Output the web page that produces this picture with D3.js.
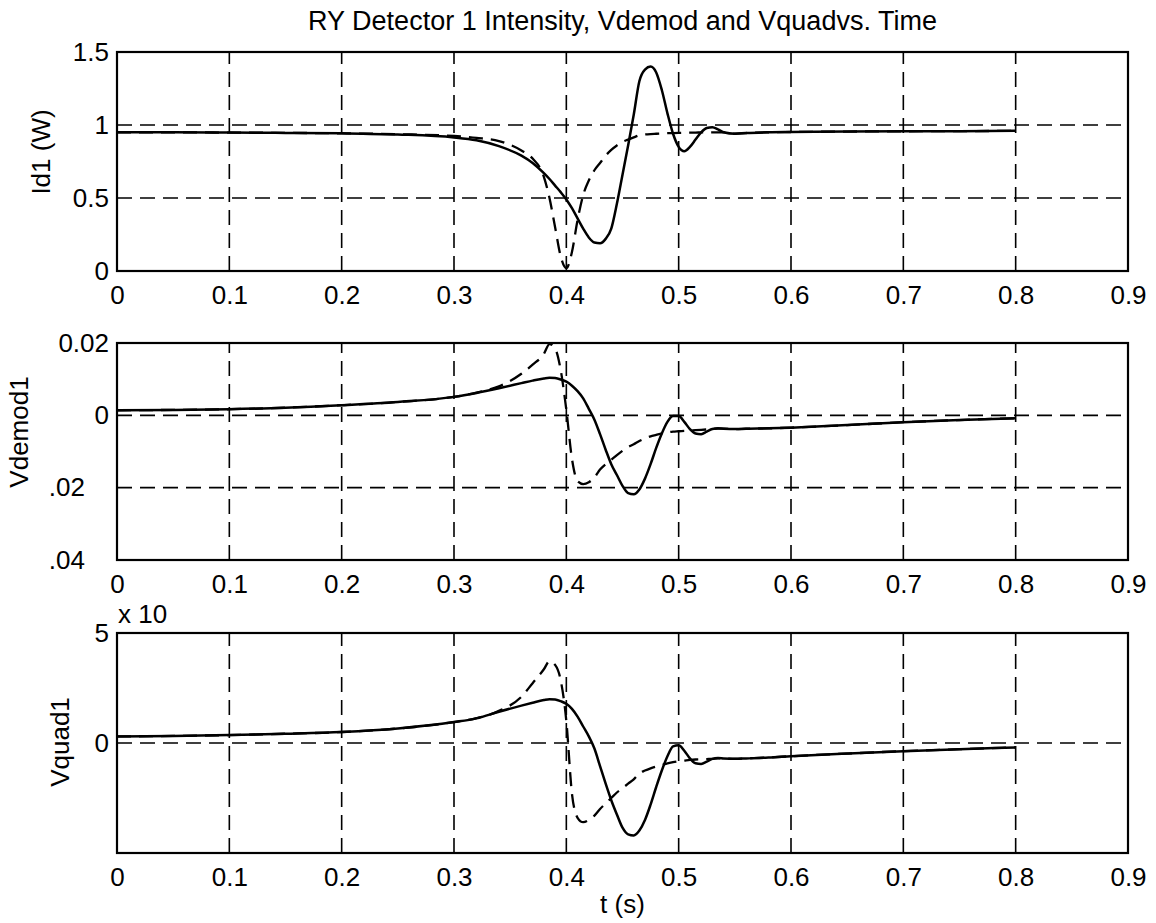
<!DOCTYPE html>
<html>
<head>
<meta charset="utf-8">
<script src="https://cdn.jsdelivr.net/npm/d3@7"></script>
<style>
  html, body { margin: 0; padding: 0; background: #fff; }
  svg { display: block; }
  text { font-family: "Liberation Sans", Arial, Helvetica, sans-serif; fill: #000; }
</style>
</head>
<body>
<svg id="chart" width="1156" height="923"></svg>
<script>
// ---------------- data ----------------
const T = [0, 0.05, 0.1, 0.15, 0.2, 0.25, 0.3, 0.32, 0.34, 0.36, 0.37, 0.38, 0.385, 0.39, 0.395,
  0.4, 0.405, 0.41, 0.415, 0.42, 0.425, 0.43, 0.435, 0.44, 0.445, 0.45, 0.455, 0.46, 0.465, 0.47,
  0.475, 0.48, 0.485, 0.49, 0.495, 0.5, 0.505, 0.51, 0.515, 0.52, 0.525, 0.53, 0.535, 0.54, 0.55,
  0.56, 0.58, 0.6, 0.65, 0.7, 0.75, 0.8];

const id1Solid = [0.95, 0.95, 0.948, 0.946, 0.943, 0.935, 0.915, 0.895, 0.855, 0.79, 0.74, 0.67, 0.63, 0.585, 0.54,
  0.49, 0.43, 0.36, 0.29, 0.23, 0.195, 0.19, 0.22, 0.29, 0.46, 0.66, 0.86, 1.07, 1.3, 1.38,
  1.40, 1.36, 1.24, 1.08, 0.94, 0.85, 0.82, 0.85, 0.9, 0.95, 0.98, 0.985, 0.97, 0.95, 0.94,
  0.945, 0.95, 0.952, 0.955, 0.957, 0.958, 0.96];
const id1Dashed = [0.95, 0.95, 0.948, 0.946, 0.943, 0.937, 0.925, 0.912, 0.89, 0.825, 0.77, 0.645, 0.5, 0.3, 0.1,
  0.02, 0.13, 0.35, 0.52, 0.62, 0.69, 0.74, 0.79, 0.83, 0.86, 0.885, 0.9, 0.915, 0.93, 0.935,
  0.938, 0.94, 0.942, 0.944, 0.945, 0.946, 0.947, 0.948, 0.948, 0.949, 0.949, 0.95, 0.95, 0.95, 0.94,
  0.945, 0.95, 0.952, 0.955, 0.957, 0.958, 0.96];

const vdemodSolid = [0.0014, 0.0015, 0.0017, 0.0021, 0.0028, 0.0037, 0.0051, 0.0062, 0.0075, 0.0089, 0.0096, 0.0102, 0.0104, 0.0103, 0.0099,
  0.0093, 0.0082, 0.0067, 0.0047, 0.0018, -0.0012, -0.0052, -0.0095, -0.0135, -0.0165, -0.0195, -0.0215, -0.0218, -0.0205, -0.0175,
  -0.0135, -0.009, -0.005, -0.0018, -0.0002, -0.0002, -0.0018, -0.0038, -0.005, -0.0052, -0.0045, -0.0038, -0.0036, -0.0037, -0.0038,
  -0.0037, -0.0036, -0.0034, -0.0027, -0.0019, -0.0013, -0.0008];
const vdemodDashed = [0.0014, 0.0015, 0.0017, 0.0021, 0.0028, 0.0037, 0.0051, 0.0063, 0.008, 0.0115, 0.014, 0.017, 0.0197, 0.0185, 0.0125,
  0.0015, -0.012, -0.0182, -0.019, -0.0185, -0.0172, -0.015, -0.0135, -0.0123, -0.011, -0.0098, -0.0088, -0.008, -0.0071, -0.0064,
  -0.0058, -0.0054, -0.005, -0.0047, -0.0045, -0.0044, -0.0043, -0.0042, -0.0041, -0.004, -0.0039, -0.0038, -0.0037, -0.0037, -0.0038,
  -0.0037, -0.0036, -0.0034, -0.0027, -0.0019, -0.0013, -0.0008];

const vquadSolid = [0.30, 0.32, 0.36, 0.42, 0.5, 0.66, 0.95, 1.12, 1.42, 1.7, 1.83, 1.95, 1.99, 1.98, 1.9,
  1.78, 1.55, 1.2, 0.75, 0.3, -0.25, -1.05, -1.85, -2.6, -3.25, -3.85, -4.15, -4.2, -3.98, -3.5,
  -2.8, -2.0, -1.25, -0.6, -0.15, -0.1, -0.35, -0.7, -0.92, -0.95, -0.85, -0.72, -0.68, -0.7, -0.72,
  -0.7, -0.66, -0.6, -0.48, -0.37, -0.28, -0.2];
const vquadDashed = [0.30, 0.32, 0.36, 0.42, 0.5, 0.66, 0.95, 1.13, 1.46, 2.1, 2.72, 3.35, 3.72, 3.55, 2.85,
  1.0, -2.3, -3.4, -3.6, -3.5, -3.3, -3.0, -2.75, -2.5, -2.25, -2.05, -1.85, -1.65, -1.38, -1.25,
  -1.15, -1.07, -1.0, -0.93, -0.87, -0.83, -0.8, -0.77, -0.75, -0.74, -0.73, -0.72, -0.7, -0.7, -0.72,
  -0.7, -0.66, -0.6, -0.48, -0.37, -0.28, -0.2];

const xTicks = [0, 0.1, 0.2, 0.3, 0.4, 0.5, 0.6, 0.7, 0.8, 0.9];
const xTickLabels = ["0", "0.1", "0.2", "0.3", "0.4", "0.5", "0.6", "0.7", "0.8", "0.9"];
const id1Ticks = [0, 0.5, 1, 1.5];
const id1TickLabels = ["0", "0.5", "1", "1.5"];
const vdemodTicks = [-0.04, -0.02, 0, 0.02];
const vdemodTickLabels = [".04", ".02", "0", "0.02"];
const vquadTicks = [-5, 0, 5];
const vquadTickLabels = ["", "0", "5"];

const titleText = "RY Detector 1 Intensity, Vdemod and Vquadvs. Time";
const xLabelText = "t (s)";
const exponentText = "x 10";

// ---------------- layout ----------------
const svg = d3.select("#chart");
svg.append("rect").attr("width", 1156).attr("height", 923).attr("fill", "#fff");

const left = 117, right = 1128;
const FS = 26;

const panels = [
  { top: 52, bottom: 271, domain: [0, 1.5], ticks: id1Ticks, labels: id1TickLabels,
    solid: id1Solid, dashed: id1Dashed, ylabel: "Id1 (W)", ylx: 50, yly: 152 },
  { top: 343, bottom: 560, domain: [-0.04, 0.02], ticks: vdemodTicks, labels: vdemodTickLabels,
    solid: vdemodSolid, dashed: vdemodDashed, ylabel: "Vdemod1", ylx: 28, yly: 432 },
  { top: 633, bottom: 853, domain: [-5, 5], ticks: vquadTicks, labels: vquadTickLabels,
    solid: vquadSolid, dashed: vquadDashed, ylabel: "Vquad1", ylx: 69, yly: 742 }
];

const x = d3.scaleLinear().domain([0, 0.9]).range([left, right]);

panels.forEach(p => {
  const y = d3.scaleLinear().domain(p.domain).range([p.bottom, p.top]);
  const g = svg.append("g");

  // grid
  const grid = g.append("g").attr("stroke", "#000").attr("stroke-width", 1.6)
    .attr("stroke-dasharray", "15,8").attr("fill", "none");
  xTicks.filter(t => t > 0 && t < 0.9).forEach(t => {
    grid.append("line").attr("x1", x(t)).attr("x2", x(t)).attr("y1", p.bottom).attr("y2", p.top);
  });
  p.ticks.filter(v => v > p.domain[0] && v < p.domain[1]).forEach(v => {
    grid.append("line").attr("x1", left).attr("x2", right).attr("y1", y(v)).attr("y2", y(v));
  });

  // curves
  const line = d3.line().x(d => x(d[0])).y(d => y(d[1])).curve(d3.curveMonotoneX);
  g.append("path").datum(T.map((t, i) => [t, p.dashed[i]]))
    .attr("d", line).attr("fill", "none").attr("stroke", "#000")
    .attr("stroke-width", 2.3).attr("stroke-dasharray", "14,8");
  g.append("path").datum(T.map((t, i) => [t, p.solid[i]]))
    .attr("d", line).attr("fill", "none").attr("stroke", "#000")
    .attr("stroke-width", 2.5);

  // frame
  g.append("rect").attr("x", left).attr("y", p.top).attr("width", right - left)
    .attr("height", p.bottom - p.top).attr("fill", "none").attr("stroke", "#000").attr("stroke-width", 2.2);

  // axes
  const ax = g.append("g").attr("transform", `translate(0,${p.bottom})`)
    .call(d3.axisBottom(x).tickValues(xTicks).tickFormat((d, i) => xTickLabels[i]).tickSize(0).tickPadding(15));
  ax.select(".domain").remove();
  ax.selectAll("text").attr("font-size", FS).attr("font-family", null).attr("fill", "#000");

  const ay = g.append("g").attr("transform", `translate(${left},0)`)
    .call(d3.axisLeft(y).tickValues(p.ticks).tickFormat((d, i) => p.labels[i]).tickSize(0).tickPadding(8));
  ay.select(".domain").remove();
  ay.selectAll("text").attr("font-size", FS).attr("font-family", null).attr("fill", "#000")
    .attr("x", function() { return this.textContent.startsWith(".") ? -32 : -8; });

  // y label
  svg.append("text").attr("transform", `translate(${p.ylx},${p.yly}) rotate(-90)`)
    .attr("text-anchor", "middle").attr("font-size", FS).text(p.ylabel);
});

svg.append("text").attr("x", (left + right) / 2).attr("y", 30).attr("text-anchor", "middle")
  .attr("font-size", 27).text(titleText);
svg.append("text").attr("x", (left + right) / 2).attr("y", 913).attr("text-anchor", "middle")
  .attr("font-size", FS).text(xLabelText);
svg.append("text").attr("x", 118).attr("y", 623).attr("font-size", FS).text(exponentText);
</script>
</body>
</html>
